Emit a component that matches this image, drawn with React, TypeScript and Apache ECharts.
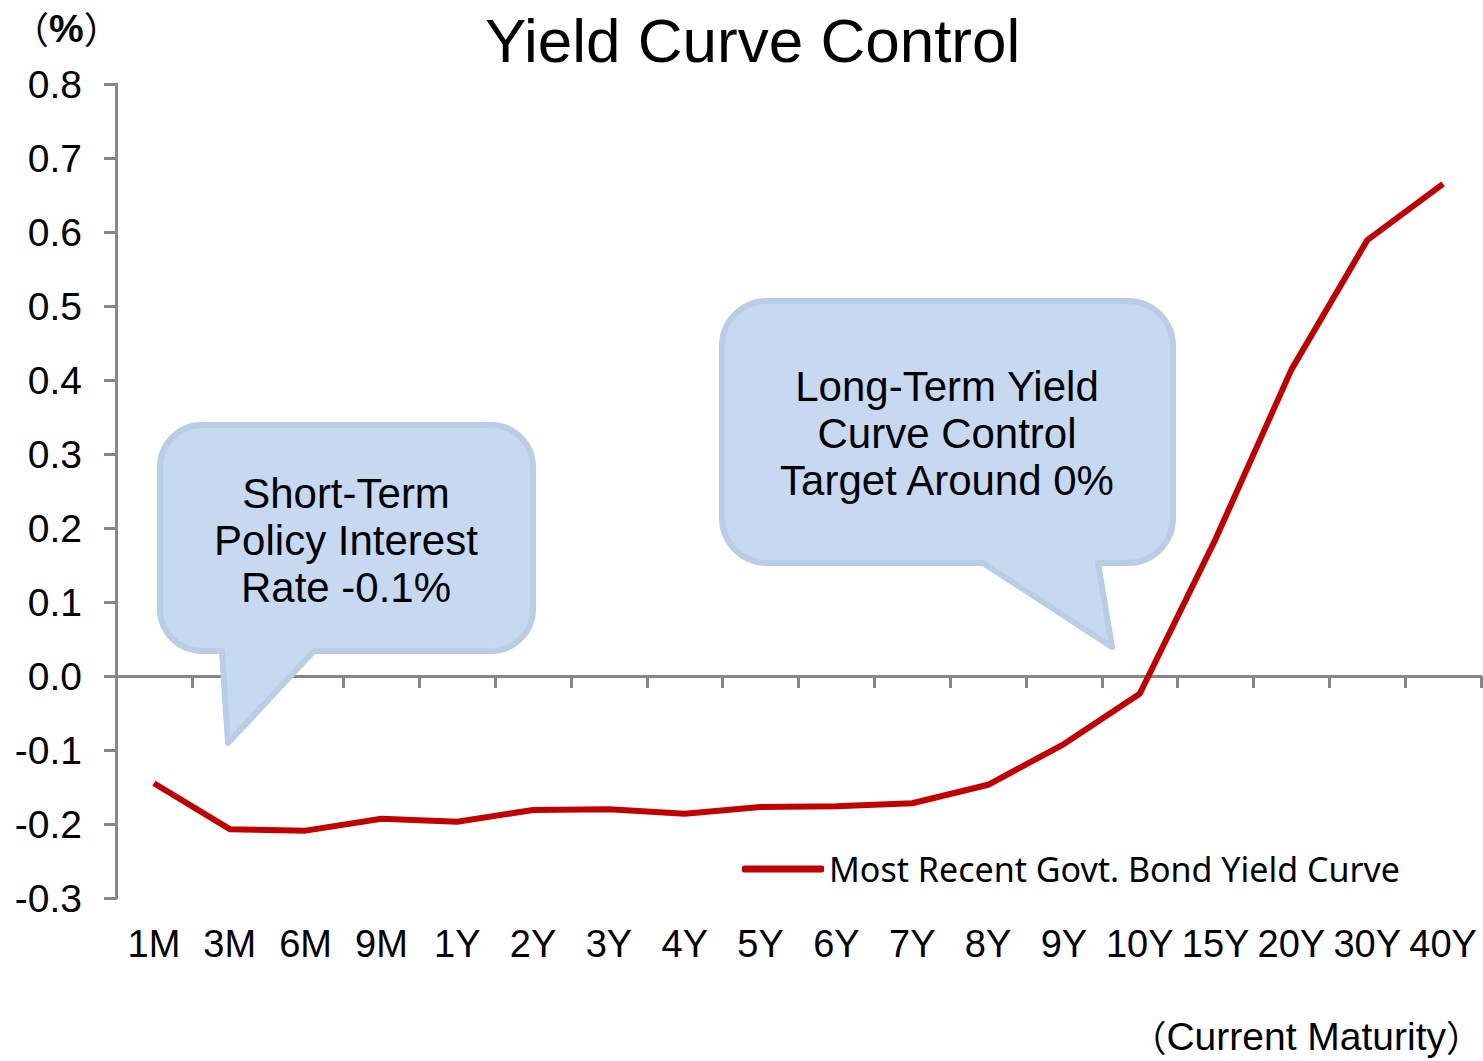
import React, { useEffect, useRef } from "react";
import * as echarts from "echarts";

const categories = ["1M", "3M", "6M", "9M", "1Y", "2Y", "3Y", "4Y", "5Y", "6Y", "7Y", "8Y", "9Y", "10Y", "15Y", "20Y", "30Y", "40Y"];
const yieldValues = [-0.145, -0.207, -0.209, -0.193, -0.197, -0.181, -0.180, -0.186, -0.177, -0.176, -0.172, -0.147, -0.092, -0.024, 0.185, 0.414, 0.589, 0.665];
const seriesName = "Most Recent Govt. Bond Yield Curve";
const titleText = "Yield Curve Control";
const calloutShort = "Short-Term\nPolicy Interest\nRate -0.1%";
const calloutLong = "Long-Term Yield\nCurve Control\nTarget Around 0%";

const ARIAL = "'Liberation Sans', Arial, sans-serif";
const CJK = "'Noto Sans CJK JP', 'Liberation Sans', sans-serif";

const d1 =
  "M 202 425 H 491 A 42 42 0 0 1 533 467 V 609 A 42 42 0 0 1 491 651 H 314 L 228 743 L 222 651 H 202 A 42 42 0 0 1 160 609 V 467 A 42 42 0 0 1 202 425 Z";
const d2 =
  "M 767 301 H 1128 A 45 45 0 0 1 1173 346 V 518 A 45 45 0 0 1 1128 563 H 1098 L 1112 647 L 983 563 H 767 A 45 45 0 0 1 722 518 V 346 A 45 45 0 0 1 767 301 Z";

let registered = false;
function registerShapes() {
  if (registered) return;
  echarts.graphic.registerShape("calloutShort", echarts.graphic.extendPath(d1, {}) as any);
  echarts.graphic.registerShape("calloutLong", echarts.graphic.extendPath(d2, {}) as any);
  registered = true;
}

export default function App() {
  const ref = useRef<HTMLDivElement>(null);
  useEffect(() => {
    if (!ref.current) return;
    registerShapes();
    const chart = echarts.init(ref.current, null, { renderer: "svg" });
    const axisGray = "#878787";
    const calloutStyle = { fill: "#c6d9f0", stroke: "#b9cde5", lineWidth: 6, lineJoin: "round" };
    chart.setOption({
      animation: false,
      backgroundColor: "#ffffff",
      title: {
        text: titleText,
        left: 480,
        top: 4,
        textStyle: { fontFamily: ARIAL, fontSize: 62, fontWeight: "normal", color: "#000" },
      },
      grid: { left: 116, right: 2, top: 84, bottom: 163, containLabel: false, outerBoundsMode: "none" },
      legend: {
        data: [seriesName],
        left: 737,
        top: 847,
        icon: "roundRect",
        itemWidth: 82,
        itemHeight: 7,
        itemGap: 0,
        textStyle: { fontFamily: "'Noto Sans', sans-serif", fontSize: 34, color: "#000", padding: [0, 0, 0, 0] },
      },
      xAxis: {
        type: "category",
        data: categories,
        boundaryGap: true,
        axisLine: { show: true, onZero: true, lineStyle: { color: axisGray, width: 3 } },
        axisTick: { show: true, interval: 0, length: 12, lineStyle: { color: axisGray, width: 3 } },
        axisLabel: { interval: 0, margin: 27, fontFamily: ARIAL, fontSize: 38, color: "#000" },
        splitLine: { show: false },
      },
      yAxis: {
        type: "value",
        min: -0.3,
        max: 0.8,
        interval: 0.1,
        axisLine: { show: true, lineStyle: { color: axisGray, width: 3 } },
        axisTick: { show: true, length: 12, lineStyle: { color: axisGray, width: 3 } },
        axisLabel: {
          margin: 34,
          fontFamily: ARIAL,
          fontSize: 39,
          color: "#000",
          formatter: (v: number) => {
            const s = (Math.round(v * 10) / 10).toFixed(1);
            return s === "-0.0" ? "0.0" : s;
          },
        },
        splitLine: { show: false },
      },
      series: [
        {
          name: seriesName,
          type: "line",
          data: yieldValues,
          symbol: "none",
          z: 5,
          itemStyle: { color: "#c00000" },
          lineStyle: { color: "#c00000", width: 6 },
        },
      ],
      graphic: [
        { type: "calloutShort", x: 0, y: 0, z: 10, style: calloutStyle },
        { type: "calloutLong", x: 0, y: 0, z: 10, style: calloutStyle },
        {
          type: "text",
          x: 346,
          y: 540,
          z: 11,
          style: {
            text: calloutShort,
            fontFamily: ARIAL,
            fontSize: 42,
            lineHeight: 47,
            fill: "#000",
            align: "center",
            verticalAlign: "middle",
          },
        },
        {
          type: "text",
          x: 947,
          y: 433,
          z: 11,
          style: {
            text: calloutLong,
            fontFamily: ARIAL,
            fontSize: 42,
            lineHeight: 47,
            fill: "#000",
            align: "center",
            verticalAlign: "middle",
          },
        },
        {
          type: "text",
          x: 12,
          y: 28,
          z: 11,
          style: {
            text: "{p|（}{b|%}{p|）}",
            verticalAlign: "middle",
            rich: {
              p: { fontFamily: CJK, fontSize: 37, fill: "#000" },
              b: { fontFamily: ARIAL, fontSize: 39, fontWeight: "bold", fill: "#000" },
            },
          },
        },
        {
          type: "text",
          x: 1482,
          y: 1036,
          z: 11,
          style: {
            text: "{p|（}{t|Current Maturity}{p|）}",
            align: "right",
            verticalAlign: "middle",
            rich: {
              p: { fontFamily: CJK, fontSize: 36, lineHeight: 40, fill: "#000" },
              t: { fontFamily: ARIAL, fontSize: 39, lineHeight: 40, fill: "#000" },
            },
          },
        },
      ],
    });
    return () => chart.dispose();
  }, []);
  return <div ref={ref} style={{ position: "fixed", left: 0, top: 0, width: 1483, height: 1061 }} />;
}
